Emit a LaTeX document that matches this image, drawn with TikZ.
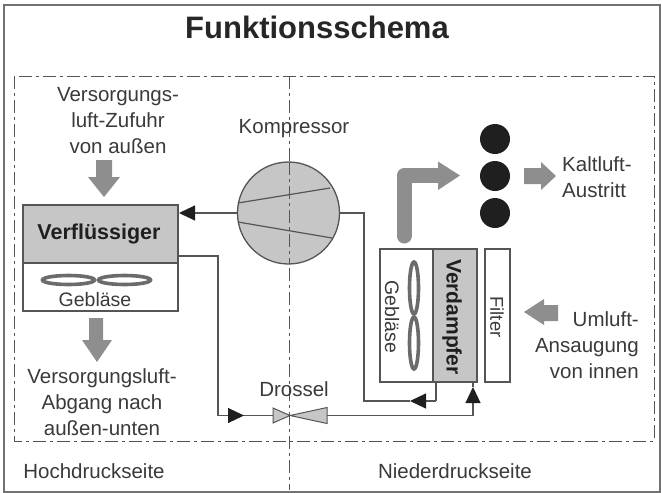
\documentclass[tikz,border=0pt]{standalone}
\usepackage{fontspec}
\setmainfont{Liberation Sans}
\usetikzlibrary{arrows.meta,calc}
\definecolor{line}{HTML}{555555}
\definecolor{fillgray}{HTML}{C6C6C6}
\definecolor{arrowgray}{HTML}{8E8E8E}
\definecolor{ink}{HTML}{3A3A3A}
\tikzset{x=1pt,y=-1pt,
 frame/.style={draw=black!55,line width=1.5pt},
 sep/.style={draw=line,line width=1pt,dash pattern=on 13pt off 4pt on 3pt off 4pt},
 box/.style={draw=line,line width=1.2pt,inner sep=0pt,outer sep=0pt,anchor=north west},
 wire/.style={draw=line,line width=1.1pt},
 tipped/.style={wire,-{Triangle[length=16pt,width=15pt,color=black!88]}},
 lbl/.style={text=ink,font=\fontsize{20.5}{26}\selectfont,align=center,inner sep=0pt},
 bold/.style={text=black!88,font=\fontsize{21.5}{26}\selectfont\bfseries,inner sep=0pt},
 fanblade/.style={draw=black!58,line width=3.6pt},
 dot/.style={circle,fill=black!88,minimum size=30pt,inner sep=0pt},
 flow/.style={fill=arrowgray},
}
\begin{document}
\begin{tikzpicture}
\useasboundingbox (0,0) rectangle (662,493);
\draw[frame] (4,5) rectangle (660,492);
\node[font=\fontsize{31}{36}\selectfont\bfseries,text=black!85,inner sep=0pt] (title) at (317,27) {Funktionsschema};
% separators
\draw[sep] (14,76) rectangle (654,441);
\draw[sep] (289,76) -- (289,490);
% condenser
\node[box,minimum width=155pt,minimum height=58pt,fill=fillgray] (verf) at (23,205) {};
\node[bold] (verft) at (99,234) {Verflüssiger};
\node[box,minimum width=155pt,minimum height=48pt] (verfg) at (23,263) {};
\node[lbl,font=\fontsize{19.5}{24}\selectfont] (verfgt) at (95,300) {Gebläse};
\draw[fanblade] (68.5,280) ellipse (26pt and 4.5pt);
\draw[fanblade] (124.5,280) ellipse (26pt and 4.5pt);
% compressor
\node[circle,draw=line,line width=1.3pt,fill=fillgray,minimum size=102pt,inner sep=0pt] (comp) at (288.5,213) {};
\draw[sep] (289,162) -- (289,264);
\draw[draw=line,line width=1.2pt] (238,203) -- (330,188) (238,222) -- (332,238);
\node[lbl] (kompt) at (294,129) {Kompressor};
% evaporator
\node[box,minimum width=53pt,minimum height=133pt] (geb) at (380,249) {};
\node[box,minimum width=44pt,minimum height=133pt,fill=fillgray] (verd) at (433,249) {};
\node[box,minimum width=25pt,minimum height=133pt] (filter) at (485,249) {};
\node[lbl,rotate=-90,font=\fontsize{19.5}{24}\selectfont] (gebt) at (392,317) {Gebläse};
\node[bold,rotate=-90,font=\fontsize{21}{26}\selectfont\bfseries] (verdt) at (452,317) {Verdampfer};
\node[lbl,rotate=-90,font=\fontsize{18.5}{22}\selectfont] (filtert) at (497,317) {Filter};
\draw[fanblade] (414,288) ellipse (4.5pt and 26pt);
\draw[fanblade] (414,343) ellipse (4.5pt and 26pt);
% throttle
\coordinate (dl) at (273,415.5);
\coordinate (dr) at (327,415.5);
\coordinate (dm) at (290,415.5);
\draw[draw=line,line width=1pt,fill=fillgray] (dl) ++(0,-7.5) -- (dm) -- ($(dr)+(0,-8)$) -- ($(dr)+(0,8)$) -- (dm) -- ($(dl)+(0,7.5)$) -- cycle;
\node[lbl] (drost) at (294,389) {Drossel};
% connectors
\coordinate (t1) at ($(verf.east |- comp.west)+(1,0)$);
\draw[tipped] (comp.west) -- (t1);
\coordinate (v1) at (218,256);
\coordinate (v2) at (218,415.5);
\coordinate (t2) at (244,415.5);
\draw[wire] (verf.east |- v1) -- (v1) -- (v2) -- (t2);
\draw[tipped] (v2) -- (t2);
\draw[wire] (t2) -- (dl);
\coordinate (c1) at (364,213);
\coordinate (c2) at (364,401);
\coordinate (c3) at (436,401);
\coordinate (t3) at (410,401);
\draw[tipped] (c3) -- (t3);
\draw[wire] (t3) -- (c2) -- (c1) -- (comp.east);
\draw[wire] (c3) -- (c3 |- verd.south);
\coordinate (e1) at (473,415.5);
\coordinate (t4) at (473,387);
\draw[wire] (dr) -- (e1);
\draw[tipped] (e1) -- (t4);
\draw[wire] (t4) -- (t4 |- verd.south);
% flow arrows
\fill[flow] (96,160) -- (112,160) -- (112,177) -- (120,177) -- (104,197) -- (88,177) -- (96,177) -- cycle;
\fill[flow] (89,318) -- (103,318) -- (103,340) -- (112,340) -- (97,362) -- (82,340) -- (89,340) -- cycle;
\draw[draw=arrowgray,line width=15pt,line cap=round,line join=round] (404,236) -- (404,175.5) -- (438,175.5);
\fill[flow] (438,161.5) -- (460,175.5) -- (438,190) -- cycle;
\fill[flow] (524,168) -- (541,168) -- (541,162) -- (556,176) -- (541,190) -- (541,184) -- (524,184) -- cycle;
\fill[flow] (558,305) -- (544,305) -- (544,299) -- (524,312) -- (544,325) -- (544,321) -- (558,321) -- cycle;
% dots
\node[dot] (d1) at (495,139) {};
\node[dot] (d2) at (495,176) {};
\node[dot] (d3) at (495,213) {};
% labels
\node[lbl,text depth=0pt] (t1a) at (118,120) {Versorgungs-\\luft-Zufuhr\\von außen};
\node[lbl] (t2a) at (102,402) {Versorgungsluft-\\Abgang nach\\außen-unten};
\node[lbl,align=left,anchor=west] (t3a) at (562,177) {Kaltluft-\\Austritt};
\node[lbl,align=right,anchor=east] (t4a) at (639,345) {Umluft-\\Ansaugung\\von innen};
\node[lbl] (hd) at (94,471) {Hochdruckseite};
\node[lbl] (nd) at (455,471) {Niederdruckseite};
\end{tikzpicture}
\end{document}
